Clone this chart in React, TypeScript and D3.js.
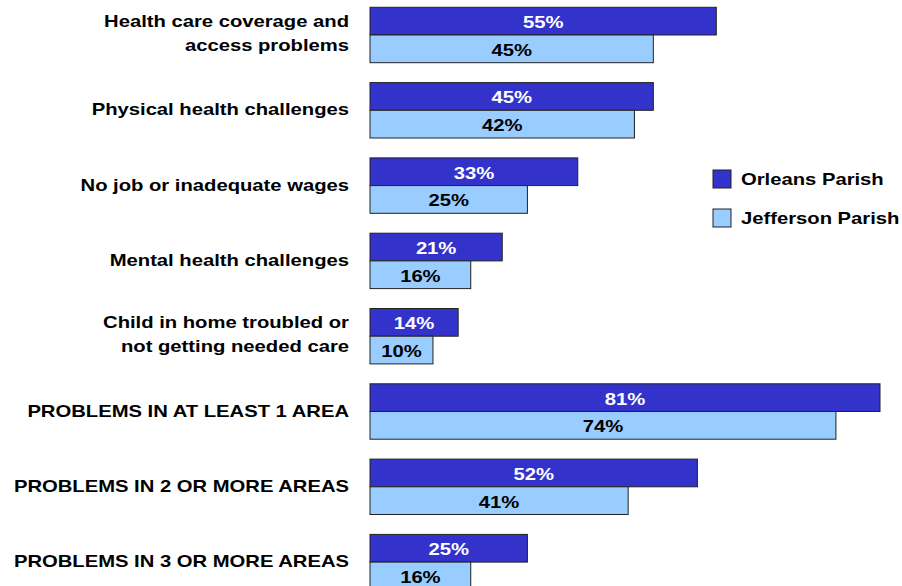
import React from "react";
import * as d3 from "d3";

const categories: string[][] = [
  ["Health care coverage and", "access problems"],
  ["Physical health challenges"],
  ["No job or inadequate wages"],
  ["Mental health challenges"],
  ["Child in home troubled or", "not getting needed care"],
  ["PROBLEMS IN AT LEAST 1 AREA"],
  ["PROBLEMS IN 2 OR MORE AREAS"],
  ["PROBLEMS IN 3 OR MORE AREAS"],
];
const orleans = [55, 45, 33, 21, 14, 81, 52, 25];
const jefferson = [45, 42, 25, 16, 10, 74, 41, 16];
const seriesNames = ["Orleans Parish", "Jefferson Parish"];

const W = 902;
const H = 586;
const FONT = "'Liberation Sans', Arial, sans-serif";
const SX = 1.19;
const FS = 17;

export default function App() {
  const x = d3.scaleLinear().domain([0, 81]).range([370, 880]);
  const step = 75.3;
  const band = 55.4;
  const y = d3
    .scaleBand<number>()
    .domain(d3.range(categories.length))
    .range([7.3, 7.3 + step * (categories.length - 1) + band])
    .paddingInner(1 - band / step)
    .paddingOuter(0)
    .align(0);
  const bh = y.bandwidth() / 2;
  const colors = ["#3333CC", "#99CCFF"];
  const textColors = ["#FFFFFF", "#000000"];

  const T = (props: {
    x: number;
    y: number;
    anchor: string;
    fill?: string;
    children: React.ReactNode;
  }) => (
    <text
      transform={`translate(${props.x},${props.y}) scale(${SX},1)`}
      textAnchor={props.anchor}
      fontFamily={FONT}
      fontWeight="bold"
      fontSize={FS}
      fill={props.fill || "#000"}
    >
      {props.children}
    </text>
  );

  return (
    <svg
      width={W}
      height={H}
      style={{ position: "absolute", left: 0, top: 0, background: "#fff" }}
    >
      {categories.map((lines, i) => {
        const top = y(i)!;
        const mid = top + bh;
        const vals = [orleans[i], jefferson[i]];
        return (
          <g key={i}>
            {vals.map((v, s) => (
              <g key={s}>
                <rect
                  x={x(0)}
                  y={top + s * bh}
                  width={x(v) - x(0)}
                  height={bh}
                  fill={colors[s]}
                  stroke="#222"
                  strokeWidth={1}
                />
                <T
                  x={(x(0) + x(v)) / 2}
                  y={top + s * bh + bh / 2 + 7}
                  anchor="middle"
                  fill={textColors[s]}
                >
                  {v}%
                </T>
              </g>
            ))}
            {lines.length === 1 ? (
              <T x={349} y={mid + 5} anchor="end">
                {lines[0]}
              </T>
            ) : (
              lines.map((l, k) => (
                <T key={k} x={349} y={mid - 8.5 + k * 24.5} anchor="end">
                  {l}
                </T>
              ))
            )}
          </g>
        );
      })}
      {seriesNames.map((n, s) => (
        <g key={n}>
          <rect
            x={713}
            y={170 + s * 39}
            width={18}
            height={18}
            fill={colors[s]}
            stroke="#222"
            strokeWidth={1}
          />
          <T x={741} y={184.5 + s * 39} anchor="start">
            {n}
          </T>
        </g>
      ))}
    </svg>
  );
}
